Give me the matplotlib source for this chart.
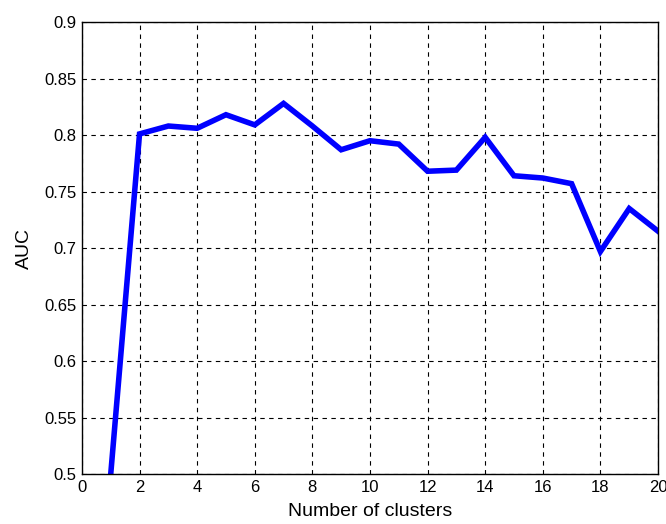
import numpy as np
import matplotlib.pyplot as plt

plt.rcParams['font.family'] = ['Liberation Sans', 'DejaVu Sans']

# data
n_clusters = np.arange(1, 21)
auc = np.array([0.500, 0.801, 0.808, 0.806, 0.818, 0.809, 0.828, 0.808,
                0.787, 0.795, 0.792, 0.768, 0.769, 0.798, 0.764, 0.762,
                0.757, 0.697, 0.735, 0.715])

x_ticks = np.arange(0, 21, 2)
y_ticks = np.arange(0.5, 0.901, 0.05)
y_labels = ['0.5', '0.55', '0.6', '0.65', '0.7', '0.75', '0.8', '0.85', '0.9']

fig = plt.figure(figsize=(6.66, 5.24), dpi=100)
ax = fig.add_axes([0.123, 0.095, 0.865, 0.863])

ax.plot(n_clusters, auc, color=(0, 0, 1), linewidth=4, solid_joinstyle='miter')

ax.set_xlim(0, 20)
ax.set_ylim(0.5, 0.9)
ax.set_xticks(x_ticks)
ax.set_yticks(y_ticks)
ax.set_yticklabels(y_labels)
ax.tick_params(direction='in', length=0, labelsize=12, pad=4)
ax.grid(True, color='black', linestyle=(0, (4, 4)), linewidth=0.8)

for s in ax.spines.values():
    s.set_linewidth(1.0)

ax.set_xlabel('Number of clusters', fontsize=14, labelpad=6)
ax.set_ylabel('AUC', fontsize=14, labelpad=8)

fig.savefig('out.png', dpi=100)
